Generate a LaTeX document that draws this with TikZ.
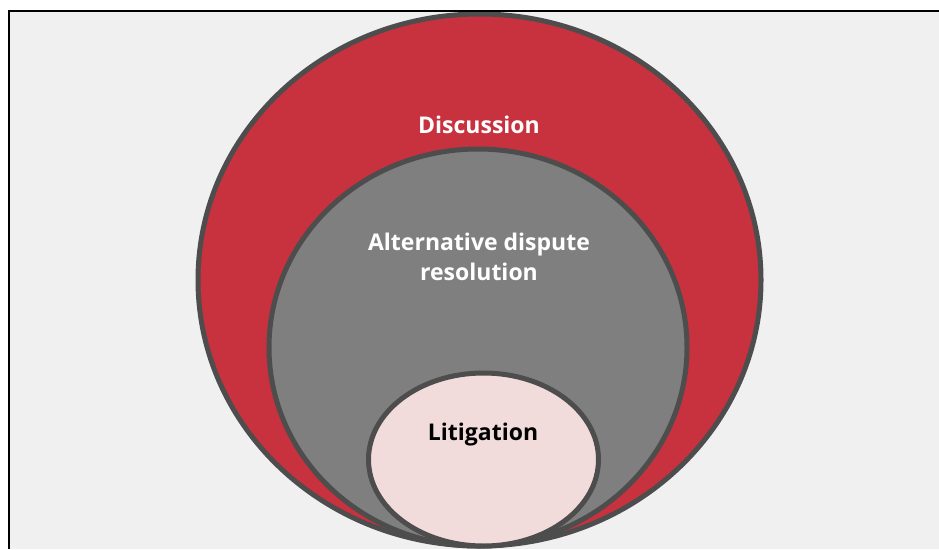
\documentclass[tikz,border=0pt]{standalone}
\usepackage{fontspec}
\setmainfont{Open Sans}
\usetikzlibrary{shapes.geometric}
\definecolor{panelbg}{HTML}{F0F0F0}
\definecolor{ringred}{HTML}{C8323E}
\definecolor{ringgrey}{HTML}{7F7F7F}
\definecolor{corepink}{HTML}{F2DCDB}
\definecolor{rimgrey}{HTML}{4D4D4D}
\tikzset{
  ring/.style={ellipse, draw=rimgrey, line width=5pt, inner sep=0pt, outer sep=0pt},
  ringlabel/.style={font=\bfseries\fontsize{23}{30}\selectfont, align=center, inner sep=0pt}
}
\begin{document}
\begin{tikzpicture}[x=1pt, y=-1pt]
  \useasboundingbox (0,0) rectangle (939,549);
  \fill[white] (0,0) rectangle (939,549);
  \fill[panelbg] (9,11) rectangle (939,549);
  \begin{scope}
    \clip (0,0) rectangle (939,549);
    \node[ring, fill=ringred, minimum width=563pt, minimum height=532pt] (discussion) at (479.5,280) {};
    \node[ring, fill=ringgrey, minimum width=418pt, minimum height=397pt] (adr) at (478,347.5) {};
    \node[ring, fill=corepink, minimum width=230pt, minimum height=173pt] (litigation) at (483.5,459.5) {};
  \end{scope}
  \draw[black, line width=2pt] (9,549) -- (9,11) -- (939,11);
  \node[ringlabel, text=white] (discussionText) at (479,125) {Discussion};
  \node[ringlabel, text=white] (adrText) at (479,256.5) {Alternative dispute\\resolution};
  \node[ringlabel, text=black] (litigationText) at (483,435) {Litigation};
\end{tikzpicture}
\end{document}
